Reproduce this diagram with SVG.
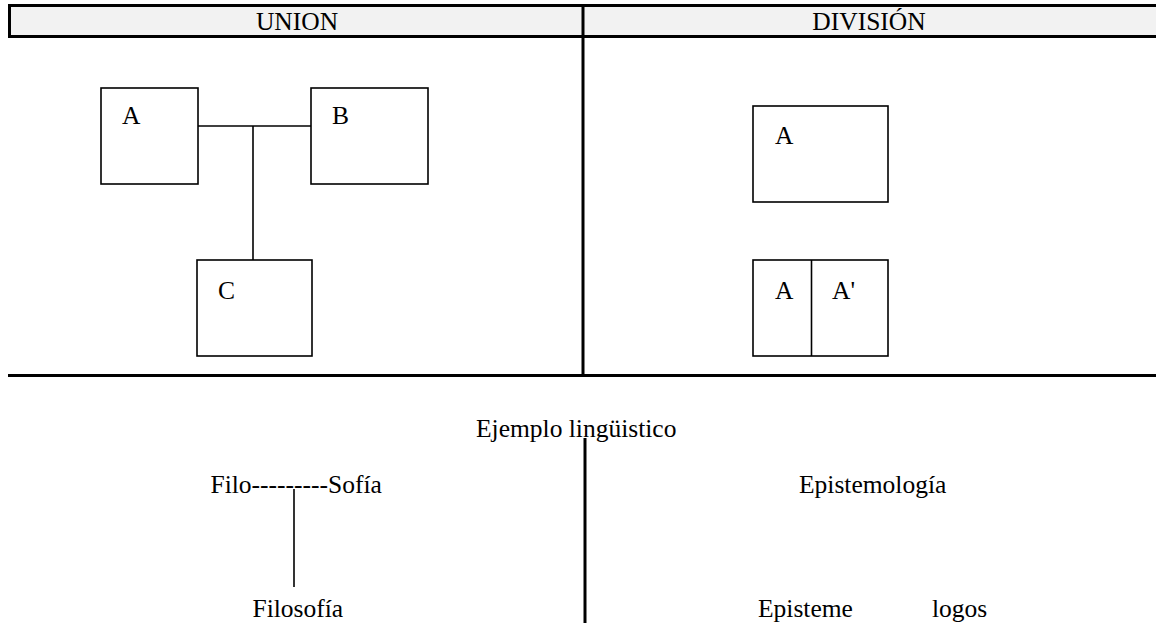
<svg xmlns="http://www.w3.org/2000/svg" width="1156" height="623" viewBox="0 0 1156 623">
<style>
  text { font-family: 'Liberation Serif', 'DejaVu Serif', serif; font-size: 25.5px; fill: #000; }
  .box { fill: #fff; stroke: #000; stroke-width: 1.6; }
  .thin { stroke: #000; stroke-width: 1.6; fill: none; }
  .thick { stroke: #000; stroke-width: 3; fill: none; }
  .mid { text-anchor: middle; }
</style>
<rect width="1156" height="623" fill="#fff"/>
<g id="header" font-family="Liberation Serif, serif">
  <rect x="9.5" y="5.5" width="1150" height="31" fill="#f2f2f2" stroke="#000" stroke-width="3"/>
  <text class="mid" x="297" y="29.5">UNION</text>
  <text class="mid" x="869" y="29.5">DIVISIÓN</text>
</g>
<g id="frame">
  <line class="thick" x1="583" y1="5" x2="583" y2="375"/>
  <line class="thick" x1="8" y1="375.5" x2="1156" y2="375.5"/>
</g>
<g id="connectors">
  <line class="thin" x1="198" y1="126" x2="311" y2="126"/>
  <line class="thin" x1="253" y1="126" x2="253" y2="260"/>
  <line class="thin" x1="294" y1="489" x2="294" y2="587"/>
  <line class="thick" x1="585" y1="438" x2="585" y2="623"/>
</g>
<g id="node-A">
  <rect class="box" x="101" y="88" width="97" height="96"/>
  <text x="122" y="124">A</text>
</g>
<g id="node-B">
  <rect class="box" x="311" y="88" width="117" height="96"/>
  <text x="332" y="124">B</text>
</g>
<g id="node-C">
  <rect class="box" x="197" y="260" width="115" height="96"/>
  <text x="218" y="299">C</text>
</g>
<g id="node-div-A">
  <rect class="box" x="753" y="106" width="135" height="96"/>
  <text x="775" y="144">A</text>
</g>
<g id="node-div-split">
  <rect class="box" x="753" y="260" width="135" height="96"/>
  <line class="thin" x1="811.5" y1="260" x2="811.5" y2="356"/>
  <text x="775" y="299">A</text>
  <text x="832" y="299">A'</text>
</g>
<g id="example">
  <text x="476" y="437">Ejemplo lingüistico</text>
  <text x="210.5" y="492.5">Filo---------Sofía</text>
  <text x="252.5" y="616.5">Filosofía</text>
  <text x="799" y="492.5">Epistemología</text>
  <text x="758" y="616.5">Episteme</text>
  <text x="932" y="616.5">logos</text>
</g>
</svg>
